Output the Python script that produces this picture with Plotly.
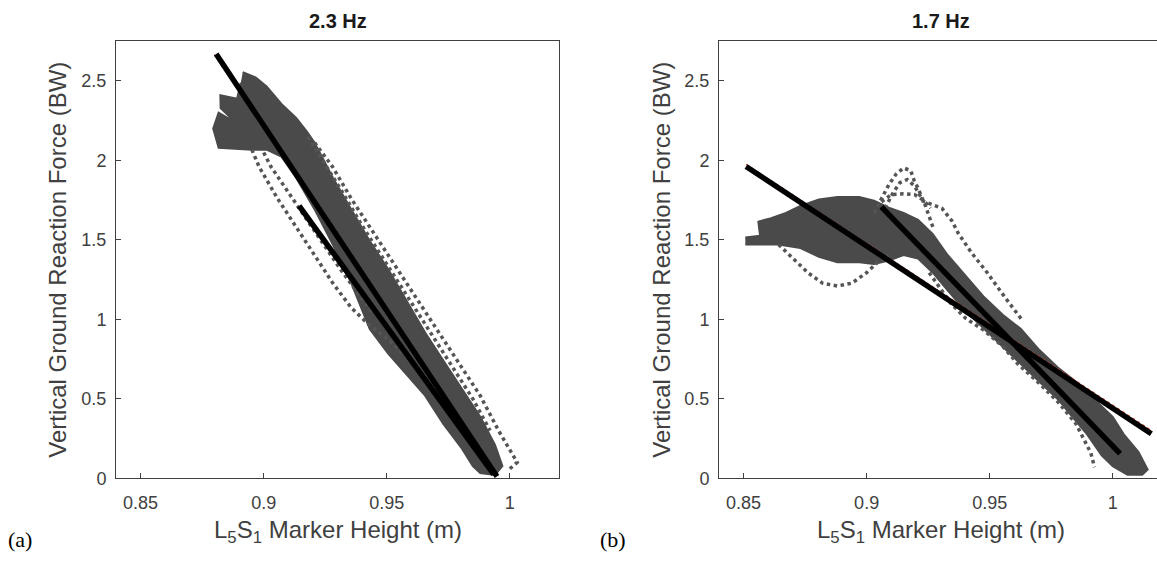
import plotly.graph_objects as go

# ---------------- data ----------------
x_ticks = [0.85, 0.90, 0.95, 1.00]
x_tick_labels = ["0.85", "0.9", "0.95", "1"]
y_ticks = [0, 0.5, 1, 1.5, 2, 2.5]
y_tick_labels = ["0", "0.5", "1", "1.5", "2", "2.5"]
titles = ["2.3 Hz", "1.7 Hz"]
panel_labels = ["(a)", "(b)"]

# Panel (a) 2.3 Hz : dense cloud outline (marker height m, vGRF BW)
a_cloud_x = [0.8915, 0.8967, 0.9012, 0.9072, 0.9132, 0.9177, 0.9207, 0.9281, 0.9356, 0.9431,
             0.9506, 0.9581, 0.9656, 0.9730, 0.9805, 0.9880, 0.9940, 0.9970, 0.9940, 0.9880,
             0.9850, 0.9805, 0.9730, 0.9656, 0.9581, 0.9506, 0.9431, 0.9356, 0.9281, 0.9207,
             0.9132, 0.9072, 0.9012, 0.8952, 0.8817, 0.8795, 0.8817, 0.8885, 0.8825, 0.8824,
             0.8892, 0.8907]
a_cloud_y = [2.555, 2.522, 2.466, 2.356, 2.267, 2.179, 2.112, 1.891, 1.692, 1.493,
             1.316, 1.117, 0.918, 0.741, 0.564, 0.387, 0.210, 0.077, 0.022, 0.033,
             0.077, 0.188, 0.343, 0.520, 0.653, 0.785, 0.940, 1.228, 1.471, 1.692,
             1.891, 2.024, 2.068, 2.068, 2.079, 2.201, 2.300, 2.240, 2.330, 2.411,
             2.389, 2.489]
# Panel (a) sparse trials
a_trial1_x = [0.8952, 0.8982, 0.9057, 0.9132, 0.9207, 0.9281, 0.9356, 0.9431, 0.9506, 0.9581,
              0.9656, 0.9730, 0.9805, 0.9880, 0.9925]
a_trial1_y = [2.068, 1.958, 1.759, 1.582, 1.405, 1.228, 1.073, 0.962, 0.874, 0.763,
              0.653, 0.498, 0.343, 0.188, 0.055]
a_trial2_x = [0.9000, 0.9030, 0.9100, 0.9170, 0.9240, 0.9310, 0.9380, 0.9440]
a_trial2_y = [2.050, 1.960, 1.800, 1.640, 1.480, 1.320, 1.170, 1.050]
a_trial3_x = [0.9207, 0.9281, 0.9356, 0.9431, 0.9506, 0.9581, 0.9656, 0.9730, 0.9805, 0.9880,
              0.9955, 1.0010, 1.0030, 1.0000]
a_trial3_y = [2.112, 1.958, 1.759, 1.582, 1.405, 1.228, 1.051, 0.874, 0.697, 0.520,
              0.299, 0.150, 0.100, 0.060]
a_trial4_x = [0.9180, 0.9250, 0.9320, 0.9400, 0.9470, 0.9540, 0.9610, 0.9690, 0.9770, 0.9850, 0.9920]
a_trial4_y = [2.150, 1.980, 1.800, 1.590, 1.420, 1.250, 1.080, 0.890, 0.700, 0.500, 0.300]
# Panel (a) fitted lines
a_fit1_x = [0.8807, 0.9948]
a_fit1_y = [2.670, 0.011]
a_fit2_x = [0.9144, 0.9935]
a_fit2_y = [1.714, 0.025]
a_ref1_x = [0.8800, 0.9960]
a_ref1_y = [2.665, -0.010]

# Panel (b) 1.7 Hz : dense cloud outline
b_cloud_x = [0.8507, 0.8567, 0.8560, 0.8612, 0.8672, 0.8731, 0.8806, 0.8881, 0.8970, 0.9030,
             0.9090, 0.9150, 0.9209, 0.9269, 0.9329, 0.9403, 0.9478, 0.9553, 0.9627, 0.9702,
             0.9777, 0.9851, 0.9926, 1.0000, 1.0045, 1.0105, 1.0142, 1.0120, 1.0060, 1.0000,
             0.9955, 0.9896, 0.9836, 0.9777, 0.9702, 0.9627, 0.9553, 0.9478, 0.9403, 0.9329,
             0.9269, 0.9209, 0.9150, 0.9090, 0.9030, 0.8970, 0.8881, 0.8806, 0.8731, 0.8642,
             0.8567, 0.8507]
b_cloud_y = [1.515, 1.526, 1.615, 1.637, 1.670, 1.714, 1.754, 1.770, 1.770, 1.747,
             1.703, 1.670, 1.626, 1.537, 1.405, 1.272, 1.139, 1.029, 0.940, 0.807,
             0.697, 0.608, 0.498, 0.387, 0.277, 0.166, 0.055, 0.022, 0.022, 0.077,
             0.144, 0.277, 0.387, 0.498, 0.608, 0.719, 0.830, 0.940, 1.051, 1.183,
             1.294, 1.383, 1.405, 1.371, 1.349, 1.360, 1.360, 1.394, 1.449, 1.471,
             1.471, 1.471]
# Panel (b) sparse trials
b_trial1_x = [0.8642, 0.8702, 0.8761, 0.8821, 0.8881, 0.8940, 0.9000, 0.9045, 0.9090]
b_trial1_y = [1.471, 1.383, 1.294, 1.228, 1.210, 1.228, 1.294, 1.360, 1.405]
b_trial2_x = [0.9030, 0.9060, 0.9090, 0.9120, 0.9150, 0.9179, 0.9194, 0.9209, 0.9239, 0.9269]
b_trial2_y = [1.670, 1.759, 1.847, 1.914, 1.953, 1.936, 1.869, 1.825, 1.714, 1.582]
b_trial3_x = [0.9075, 0.9105, 0.9135, 0.9165, 0.9194, 0.9224]
b_trial3_y = [1.700, 1.790, 1.860, 1.880, 1.840, 1.760]
b_trial4_x = [0.9060, 0.9100, 0.9150, 0.9195, 0.9230, 0.9260]
b_trial4_y = [1.740, 1.785, 1.790, 1.785, 1.750, 1.700]
b_trial5_x = [0.9224, 0.9306, 0.9347, 0.9373, 0.9427, 0.9488, 0.9562, 0.9630]
b_trial5_y = [1.747, 1.699, 1.619, 1.540, 1.418, 1.298, 1.139, 1.000]
b_trial6_x = [0.9254, 0.9299, 0.9343, 0.9403, 0.9478, 0.9553, 0.9615, 0.9700, 0.9778, 0.9851,
              0.9911, 0.9926]
b_trial6_y = [1.294, 1.200, 1.100, 1.006, 0.930, 0.830, 0.719, 0.600, 0.480, 0.343,
              0.160, 0.070]
# Panel (b) fitted lines
b_fit1_x = [0.8510, 1.0157]
b_fit1_y = [1.962, 0.281]
b_fit2_x = [0.9060, 1.0030]
b_fit2_y = [1.708, 0.155]
b_ref1_x = [0.8510, 1.0157]
b_ref1_y = [1.975, 0.300]

# ---------------- styling ----------------
GREY = "#4a4a4a"
AX = "#404040"
FONT = "Liberation Sans, Arial, sans-serif"

fig = go.Figure()


def add_panel(cx, cy, trials, fits, refs, xa, ya):
    fig.add_trace(go.Scatter(x=cx, y=cy, mode="lines", fill="toself", fillcolor=GREY,
                             line=dict(width=2, color=GREY), xaxis=xa, yaxis=ya,
                             showlegend=False, hoverinfo="skip"))
    for tx, ty in trials:
        fig.add_trace(go.Scatter(x=tx, y=ty, mode="lines",
                                 line=dict(color="#555555", width=3.5, dash="dot"),
                                 xaxis=xa, yaxis=ya, showlegend=False, hoverinfo="skip"))
    for rx, ry in refs:
        fig.add_trace(go.Scatter(x=rx, y=ry, mode="lines",
                                 line=dict(color="#e8442c", width=1.5, dash="dot"),
                                 xaxis=xa, yaxis=ya, showlegend=False, hoverinfo="skip"))
    for fx, fy in fits:
        fig.add_trace(go.Scatter(x=fx, y=fy, mode="lines",
                                 line=dict(color="black", width=5.5),
                                 xaxis=xa, yaxis=ya, showlegend=False, hoverinfo="skip"))


add_panel(a_cloud_x, a_cloud_y,
          [(a_trial1_x, a_trial1_y), (a_trial2_x, a_trial2_y),
           (a_trial3_x, a_trial3_y), (a_trial4_x, a_trial4_y)],
          [(a_fit1_x, a_fit1_y), (a_fit2_x, a_fit2_y)],
          [(a_ref1_x, a_ref1_y)], "x", "y")
add_panel(b_cloud_x, b_cloud_y,
          [(b_trial1_x, b_trial1_y), (b_trial2_x, b_trial2_y), (b_trial3_x, b_trial3_y),
           (b_trial4_x, b_trial4_y), (b_trial5_x, b_trial5_y), (b_trial6_x, b_trial6_y)],
          [(b_fit1_x, b_fit1_y), (b_fit2_x, b_fit2_y)],
          [(b_ref1_x, b_ref1_y)], "x2", "y2")

W, H = 1157, 562
axis_common = dict(showline=True, linecolor=AX, linewidth=1, ticks="inside", ticklen=5,
                   tickcolor=AX, tickfont=dict(family=FONT, size=18, color=AX),
                   showgrid=False, zeroline=False)
ydom = [75 / H, 520 / H]
fig.update_layout(
    width=W, height=H, margin=dict(l=0, r=0, t=0, b=0),
    paper_bgcolor="white", plot_bgcolor="white", showlegend=False,
    xaxis=dict(domain=[116 / W, 559 / W], range=[0.84, 1.02], tickvals=x_ticks,
               ticktext=x_tick_labels, mirror=True, anchor="y", ticklabelstandoff=8,
               **axis_common),
    yaxis=dict(domain=ydom, range=[0, 2.75], tickvals=y_ticks, ticktext=y_tick_labels,
               mirror=True, anchor="x", ticklabelstandoff=5, **axis_common),
    xaxis2=dict(domain=[719 / W, 1.0], range=[0.84, 1.018], tickvals=x_ticks,
                ticktext=x_tick_labels, mirror=True, anchor="y2", ticklabelstandoff=8,
                **axis_common),
    yaxis2=dict(domain=ydom, range=[0, 2.75], tickvals=y_ticks, ticktext=y_tick_labels,
                mirror=False, anchor="x2", ticklabelstandoff=5, **axis_common),
)

ann = []
centers = [(116 + 559) / 2 / W, (719 + 1162) / 2 / W]
for i, cx in enumerate(centers):
    ann.append(dict(text="<b>" + titles[i] + "</b>", x=cx, y=1 - 21 / H, xref="paper",
                    yref="paper", showarrow=False, xanchor="center", yanchor="middle",
                    font=dict(family=FONT, size=20, color="#1a1a1a")))
    ann.append(dict(text="L<sub>5</sub>S<sub>1</sub> Marker Height (m)", x=cx, y=1 - 541 / H,
                    xref="paper", yref="paper", showarrow=False, xanchor="center",
                    yanchor="middle", font=dict(family=FONT, size=24, color=AX)))
for i, lx in enumerate([58 / W, 662 / W]):
    ann.append(dict(text="Vertical Ground Reaction Force (BW)", x=lx, y=(ydom[0] + ydom[1]) / 2,
                    xref="paper", yref="paper", showarrow=False, textangle=-90,
                    xanchor="center", yanchor="middle",
                    font=dict(family=FONT, size=24, color=AX)))
for i, lx in enumerate([6 / W, 598 / W]):
    ann.append(dict(text=panel_labels[i], x=lx, y=1 - 549 / H, xref="paper", yref="paper",
                    showarrow=False, xanchor="left", yanchor="middle",
                    font=dict(family="Liberation Serif, Times New Roman, serif", size=22,
                              color="black")))
fig.update_layout(annotations=ann)

fig.write_html("out.html")
